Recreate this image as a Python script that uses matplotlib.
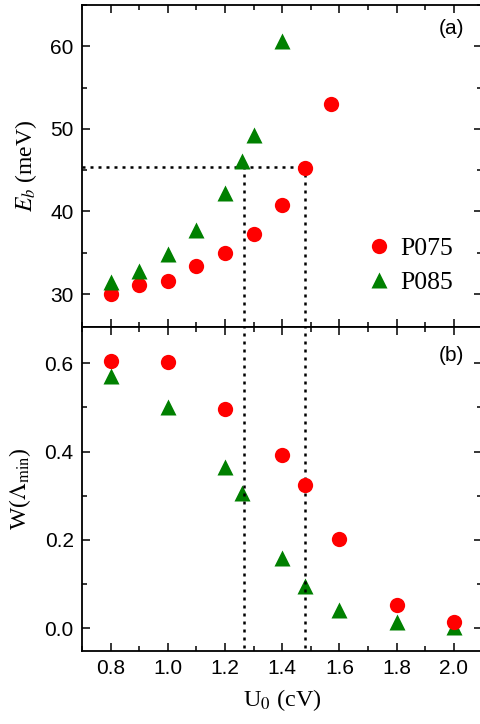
import matplotlib
matplotlib.use("Agg")
import matplotlib.pyplot as plt
from matplotlib.ticker import MultipleLocator

# data
u_a75 = [0.8, 0.9, 1.0, 1.1, 1.2, 1.3, 1.4, 1.48, 1.57]
eb_75 = [30.0, 31.05, 31.6, 33.4, 35.0, 37.3, 40.8, 45.2, 53.0]
u_a85 = [0.8, 0.9, 1.0, 1.1, 1.2, 1.26, 1.3, 1.4]
eb_85 = [31.4, 32.8, 34.8, 37.7, 42.2, 46.1, 49.3, 60.7]

u_b75 = [0.8, 1.0, 1.2, 1.4, 1.48, 1.6, 1.8, 2.0]
w_75 = [0.604, 0.602, 0.497, 0.392, 0.323, 0.202, 0.052, 0.014]
u_b85 = [0.8, 1.0, 1.2, 1.26, 1.4, 1.48, 1.6, 1.8, 2.0]
w_85 = [0.571, 0.500, 0.366, 0.305, 0.159, 0.096, 0.041, 0.014, 0.003]

eb_cut = 45.4
u_cut = [1.265, 1.48]

plt.rcParams['font.family'] = 'Liberation Sans'
plt.rcParams['mathtext.fontset'] = 'stix'

fig = plt.figure(figsize=(4.81, 7.24), dpi=100)
ax1 = fig.add_axes([0.1705, 0.5483, 0.8324, 0.4448])
ax2 = fig.add_axes([0.1705, 0.1008, 0.8324, 0.4475])

red = '#ff0000'
green = '#008000'
dots = (0, (1.2, 2.0))

ax1.plot(u_a75, eb_75, 'o', color=red, ms=11, mec='none', label='P075', zorder=3)
ax1.plot(u_a85, eb_85, '^', color=green, ms=12, mec='none', label='P085', zorder=3)
ax1.plot([0.7, u_cut[1]], [eb_cut, eb_cut], color='k', lw=1.8, ls=dots)
for u in u_cut:
    ax1.plot([u, u], [20, eb_cut], color='k', lw=1.8, ls=dots)
ax1.set_xlim(0.7, 2.1)
ax1.set_ylim(26, 65)

ax2.plot(u_b75, w_75, 'o', color=red, ms=11, mec='none', zorder=3)
ax2.plot(u_b85, w_85, '^', color=green, ms=12, mec='none', zorder=2)
for u in u_cut:
    ax2.plot([u, u], [-0.045, 0.7], color='k', lw=1.8, ls=dots)
ax2.set_xlim(0.7, 2.1)
ax2.set_ylim(-0.052, 0.682)

for ax in (ax1, ax2):
    ax.xaxis.set_major_locator(MultipleLocator(0.2))
    ax.xaxis.set_minor_locator(MultipleLocator(0.1))
    ax.tick_params(which='both', direction='in', top=True, right=True,
                   labelsize=15, width=1.1, pad=6)
    ax.tick_params(which='major', length=6)
    ax.tick_params(which='minor', length=3.5)
    for s in ax.spines.values():
        s.set_linewidth(1.3)

ax1.yaxis.set_major_locator(MultipleLocator(10))
ax1.yaxis.set_minor_locator(MultipleLocator(5))
ax1.tick_params(labelbottom=False)
ax2.yaxis.set_major_locator(MultipleLocator(0.2))
ax2.yaxis.set_minor_locator(MultipleLocator(0.1))
ax2.set_xticks([0.8, 1.0, 1.2, 1.4, 1.6, 1.8, 2.0])

ax1.set_ylabel(r'$E_b$ (meV)', family='Liberation Serif', fontsize=17, labelpad=8)
ax2.set_ylabel(r'W($\Lambda_{\rm min}$)', family='Liberation Serif', fontsize=17, labelpad=8)
ax2.set_xlabel(r'U$_0$ (cV)', family='Liberation Serif', fontsize=17.5, labelpad=6)

ax1.text(0.955, 0.955, '(a)', transform=ax1.transAxes, ha='right', va='top', fontsize=15)
ax2.text(0.955, 0.94, '(b)', transform=ax2.transAxes, ha='right', va='top', fontsize=15)

leg = ax1.legend(loc='lower right', bbox_to_anchor=(0.985, 0.03), frameon=False,
                 prop={'family': 'Liberation Serif', 'size': 18.5},
                 handletextpad=0.1, labelspacing=0.45, handlelength=1.5)

fig.savefig('out.png', dpi=100)
